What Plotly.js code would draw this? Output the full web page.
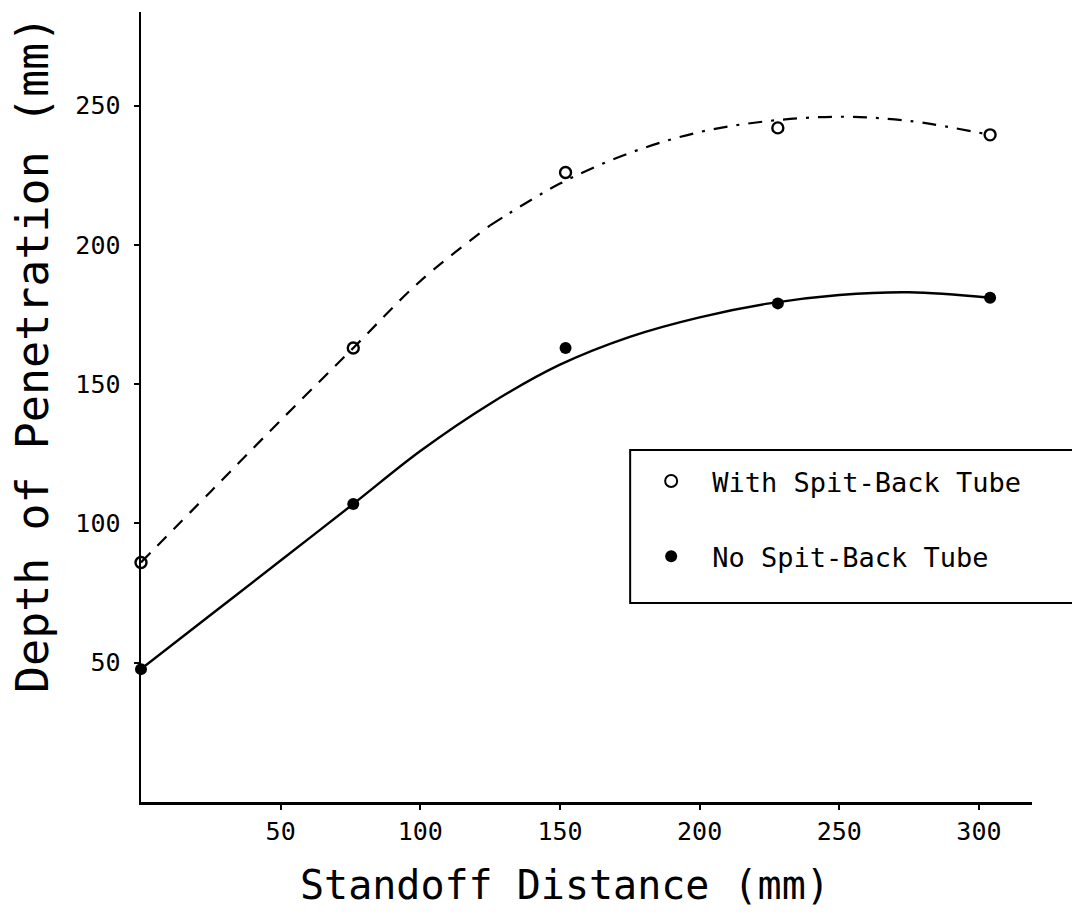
<!DOCTYPE html>
<html>
<head>
<meta charset="utf-8">
<script src="https://cdn.plot.ly/plotly-3.0.1.min.js"></script>
<style>html,body{margin:0;padding:0;background:#fff;}#chart{width:1072px;height:917px;}</style>
</head>
<body>
<div id="chart"></div>
<script>
// Measured data points
const standoff = [0, 76, 152, 228, 304];
const withTube = [86, 163, 226, 242, 239.5];
const noTube = [47.7, 107, 163, 179, 181];

// Fitted curves
const curveX = [0, 25, 50, 76, 100, 125, 150, 175, 200, 225, 250, 275, 304];
const withCurveY = [86, 111.5, 137, 163, 187, 207, 222, 233, 240.5, 244.5, 246, 244.5, 239.5];
const noCurveY = [47.7, 67.2, 86.7, 107, 126, 143, 157, 167, 174, 179, 182, 183, 181];

// split of the dashed curve into a dashed part and a dash-dot part
const splitIndex = 5;

const xTicks = [50, 100, 150, 200, 250, 300];
const yTicks = [50, 100, 150, 200, 250];

const seriesNames = ['With Spit-Back Tube', 'No Spit-Back Tube'];
const xTitle = 'Standoff Distance (mm)';
const yTitle = 'Depth of Penetration (mm)';

const FONT = '"DejaVu Sans Mono", "Liberation Mono", monospace';

const traces = [
  {
    x: curveX.slice(0, splitIndex + 1), y: withCurveY.slice(0, splitIndex + 1),
    mode: 'lines', line: {color: '#000', width: 2.2, dash: '13px,10px', shape: 'spline'},
    showlegend: false, hoverinfo: 'skip'
  },
  {
    x: curveX.slice(splitIndex), y: withCurveY.slice(splitIndex),
    mode: 'lines', line: {color: '#000', width: 2.2, dash: '14px,9px,3px,9px', shape: 'spline'},
    showlegend: false, hoverinfo: 'skip'
  },
  {
    x: curveX, y: noCurveY,
    mode: 'lines', line: {color: '#000', width: 2.4, shape: 'spline'},
    showlegend: false, hoverinfo: 'skip'
  },
  {
    x: standoff, y: withTube, name: seriesNames[0], legendgroup: 'a',
    mode: 'markers', cliponaxis: false,
    marker: {symbol: 'circle-open', size: 11, color: '#000', line: {width: 2.4, color: '#000'}}
  },
  {
    x: standoff, y: noTube, name: seriesNames[1], legendgroup: 'b',
    mode: 'markers', cliponaxis: false,
    marker: {symbol: 'circle', size: 12, color: '#000'}
  }
];

const layout = {
  width: 1072, height: 917,
  paper_bgcolor: '#fff', plot_bgcolor: '#fff',
  margin: {l: 141, r: 40, t: 12, b: 115},
  font: {family: FONT, color: '#000', size: 25},
  showlegend: true,
  legend: {
    x: 0.549, y: 0.4367, xanchor: 'left', yanchor: 'top',
    borderwidth: 0, bgcolor: 'rgba(0,0,0,0)',
    font: {family: FONT, size: 27, color: '#000'},
    tracegroupgap: 37, itemwidth: 72, itemsizing: 'constant'
  },
  shapes: [
    {type: 'rect', xref: 'paper', yref: 'paper', x0: 0.549, x1: 1.06, y0: 0.252, y1: 0.4456,
     line: {color: '#000', width: 2}, fillcolor: 'rgba(0,0,0,0)', layer: 'above'}
  ],
  annotations: [
    {text: xTitle, xref: 'paper', yref: 'paper', x: 0.4755, y: -0.105, xanchor: 'center', yanchor: 'middle',
     showarrow: false, font: {family: FONT, size: 40, color: '#000'}},
    {text: yTitle, xref: 'paper', yref: 'paper', x: -0.121, y: 0.566, xanchor: 'center', yanchor: 'middle',
     textangle: -90, showarrow: false, font: {family: FONT, size: 45, color: '#000'}}
  ],
  xaxis: {
    range: [0, 319], showgrid: false, zeroline: false,
    showline: true, linecolor: '#000', linewidth: 2.5,
    tickmode: 'array', tickvals: xTicks, ticktext: xTicks.map(String),
    ticks: 'outside', ticklen: 5, tickwidth: 2, tickcolor: '#000',
    tickfont: {family: FONT, size: 25, color: '#000'}
  },
  yaxis: {
    range: [0, 283.6], showgrid: false, zeroline: false,
    showline: true, linecolor: '#000', linewidth: 2.5,
    tickmode: 'array', tickvals: yTicks, ticktext: yTicks.map(String),
    ticks: 'outside', ticklen: 5, tickwidth: 2, tickcolor: '#000',
    ticklabelstandoff: 8,
    tickfont: {family: FONT, size: 25, color: '#000'}
  },
  xaxis2: {
    overlaying: 'x', matches: 'x', showline: false, showgrid: false, zeroline: false,
    tickmode: 'array', tickvals: xTicks, showticklabels: false,
    ticks: 'inside', ticklen: 5, tickwidth: 2, tickcolor: '#000'
  },
  yaxis2: {
    overlaying: 'y', matches: 'y', showline: false, showgrid: false, zeroline: false,
    tickmode: 'array', tickvals: yTicks, showticklabels: false,
    ticks: 'inside', ticklen: 5, tickwidth: 2, tickcolor: '#000'
  }
};

Plotly.newPlot('chart', traces, layout, {staticPlot: true, displayModeBar: false});
</script>
</body>
</html>
